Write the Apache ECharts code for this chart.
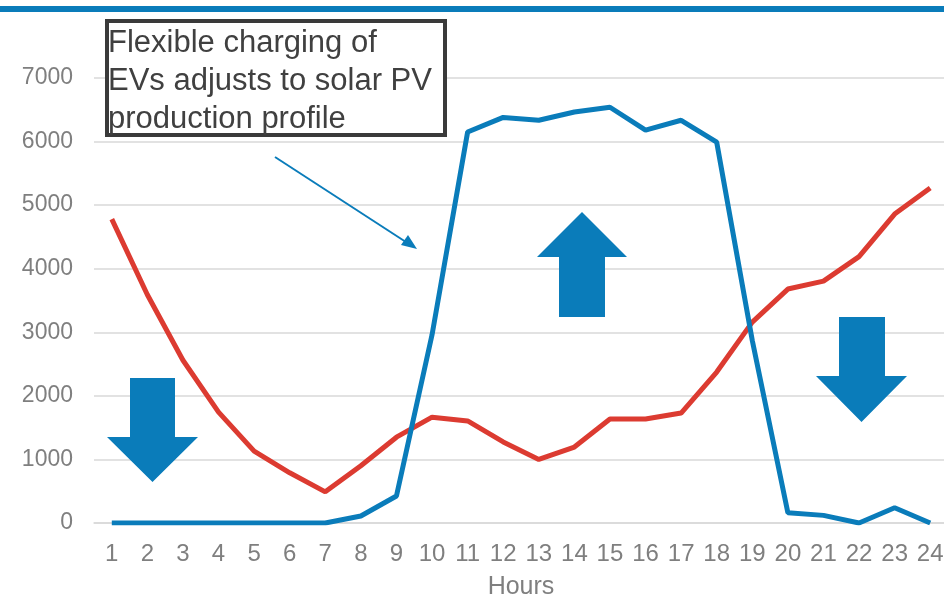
<!DOCTYPE html>
<html><head><meta charset="utf-8">
<script src="https://cdn.jsdelivr.net/npm/echarts@6/dist/echarts.min.js"></script>
<style>html,body{margin:0;padding:0;background:#fff}#c{width:944px;height:598px}</style>
</head><body><div id="c"></div>
<script>
const hours = ['1','2','3','4','5','6','7','8','9','10','11','12','13','14','15','16','17','18','19','20','21','22','23','24'];
const redSeries = [4780,3590,2560,1745,1130,790,490,900,1350,1665,1605,1275,1000,1195,1635,1635,1730,2375,3160,3680,3805,4190,4860,5270];
const blueSeries = [0,0,0,0,0,0,0,110,425,2960,6150,6380,6335,6465,6540,6180,6335,5990,2870,160,120,0,240,0];
const yTicks = [0,1000,2000,3000,4000,5000,6000,7000];
const annotationText = ['Flexible charging of','EVs adjusts to solar PV','production profile'];

const BLUE = '#0a7cba', RED = '#dc3b31';
const chart = echarts.init(document.getElementById('c'), null, {renderer:'canvas'});
const FONT = 'Liberation Sans, Arial, sans-serif';

function downArrow(x0, x1, yTop, yHead, hx0, hx1, tipY){
  const cx = (hx0+hx1)/2;
  return {type:'polygon', shape:{points:[[x0,yTop],[x1,yTop],[x1,yHead],[hx1,yHead],[cx,tipY],[hx0,yHead],[x0,yHead]]}, style:{fill:BLUE}, z:5};
}
function upArrow(x0, x1, yBottom, yHead, hx0, hx1, tipY){
  const cx = (hx0+hx1)/2;
  return {type:'polygon', shape:{points:[[x0,yBottom],[x1,yBottom],[x1,yHead],[hx1,yHead],[cx,tipY],[hx0,yHead],[x0,yHead]]}, style:{fill:BLUE}, z:5};
}

chart.setOption({
  animation:false,
  grid:{left:94, right:-4, top:78, bottom:75, containLabel:false, outerBoundsMode:'none'},
  xAxis:{
    type:'category', data:hours, boundaryGap:true,
    axisLine:{show:true, lineStyle:{color:'#d9d9d9', width:1.5}},
    axisTick:{show:false},
    axisLabel:{color:'#7f7f7f', fontSize:24, fontFamily:FONT, margin:19, interval:0},
    name:'Hours', nameLocation:'middle', nameGap:52,
    nameTextStyle:{color:'#7f7f7f', fontSize:25, fontFamily:FONT}
  },
  yAxis:{
    type:'value', min:yTicks[0], max:yTicks[yTicks.length-1], interval:1000,
    axisLine:{show:false}, axisTick:{show:false},
    axisLabel:{color:'#7f7f7f', fontSize:23, fontFamily:FONT, margin:21, formatter:v=>String(v)},
    splitLine:{lineStyle:{color:'#d9d9d9', width:1.5}}
  },
  series:[
    {type:'line', data:redSeries, symbol:'none', lineStyle:{color:RED, width:5}, z:3},
    {type:'line', data:blueSeries, symbol:'none', lineStyle:{color:BLUE, width:5}, z:4}
  ],
  graphic:[
    {type:'rect', shape:{x:0, y:6, width:944, height:6}, style:{fill:BLUE}, z:10},
    {type:'rect', shape:{x:107, y:21, width:338, height:114}, style:{fill:'#fff', stroke:'#3a3a3a', lineWidth:4}, z:8},
    {type:'text', left:108, top:25, z:9, style:{text:annotationText.join('\n'), fill:'#404040', font:'31px '+FONT, lineHeight:37.7}},
    {type:'line', shape:{x1:275, y1:157, x2:409, y2:244}, style:{stroke:BLUE, lineWidth:2}, z:6},
    {type:'polygon', shape:{points:[[417,249],[401,245],[408,235]]}, style:{fill:BLUE}, z:6},
    downArrow(130,175,378,437,107,198,482),
    upArrow(559,605,317,257,537,627,212),
    downArrow(839,885,317,376,816,907,422)
  ]
});
</script></body></html>
